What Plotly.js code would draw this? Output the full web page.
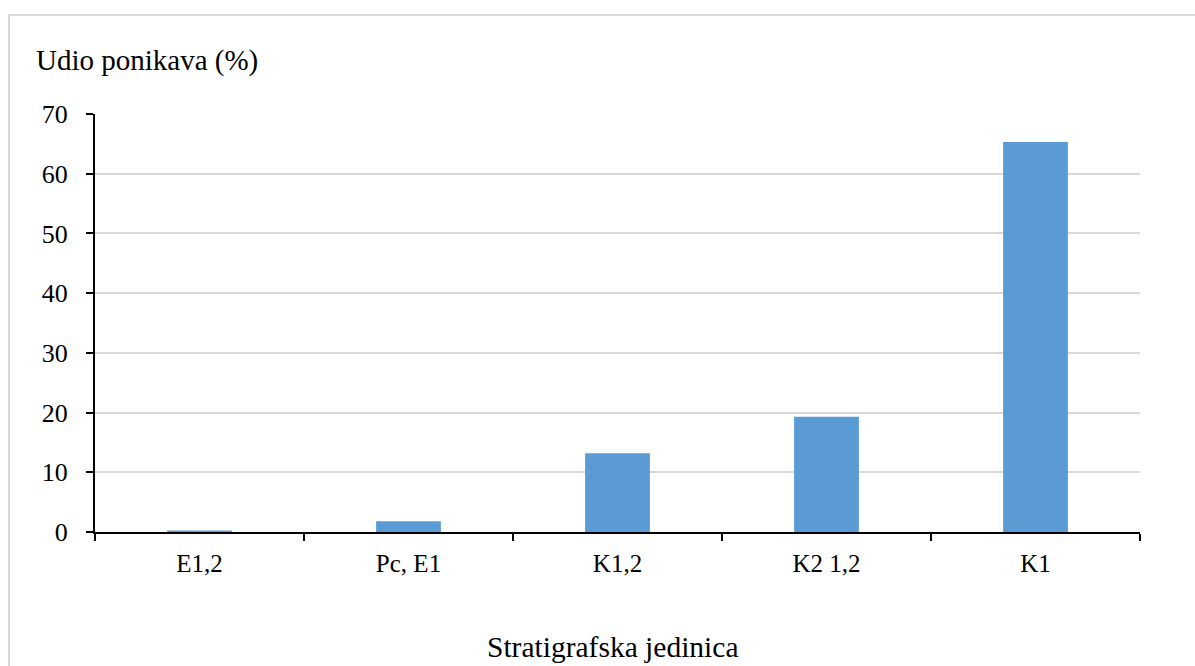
<!DOCTYPE html>
<html>
<head>
<meta charset="utf-8">
<script src="https://cdn.plot.ly/plotly-3.0.1.min.js"></script>
<style>
html,body{margin:0;padding:0;background:#fff;}
#wrap{position:relative;width:1195px;height:666px;overflow:hidden;}
#frame{position:absolute;left:8px;top:14px;width:1200px;height:700px;border:2px solid #d9d9d9;box-sizing:border-box;pointer-events:none;z-index:2;}
#chart{position:absolute;left:0;top:0;width:1195px;height:666px;}
</style>
</head>
<body>
<div id="wrap"><div id="chart"></div><div id="frame"></div></div>
<script>
const categories = ["E1,2", "Pc, E1", "K1,2", "K2 1,2", "K1"];
const values = [0.25, 1.8, 13.2, 19.3, 65.3];
const yTitle = "Udio ponikava (%)";
const xTitle = "Stratigrafska jedinica";

const font = "'Times New Roman', 'Liberation Serif', 'DejaVu Serif', serif";

Plotly.newPlot("chart", [{
  type: "bar",
  x: categories,
  y: values,
  marker: {color: "#5b9bd5"},
  hoverinfo: "x+y"
}], {
  width: 1195, height: 666,
  margin: {l: 95, r: 55, t: 114, b: 134},
  paper_bgcolor: "#fff", plot_bgcolor: "#fff",
  bargap: 0.69,
  showlegend: false,
  font: {family: font, color: "#000", size: 24},
  xaxis: {
    type: "category",
    tickson: "boundaries",
    ticks: "outside", ticklen: 7, tickwidth: 2, tickcolor: "#000",
    showline: true, linecolor: "#000", linewidth: 2,
    showgrid: false,
    tickfont: {family: font, size: 25, color: "#000"},
    ticklabelstandoff: 8
  },
  yaxis: {
    range: [0, 70], dtick: 10,
    ticks: "outside", ticklen: 7, tickwidth: 2, tickcolor: "#000",
    showline: true, linecolor: "#000", linewidth: 2,
    showgrid: true, gridcolor: "#d9d9d9", gridwidth: 2,
    zeroline: false,
    tickfont: {family: font, size: 26, color: "#000"},
    ticklabelstandoff: 13
  },
  annotations: [
    {text: yTitle, xref: "paper", yref: "paper", x: -0.058, y: 1.0, xanchor: "left", yanchor: "bottom", yshift: 35, showarrow: false, font: {family: font, size: 29, color: "#000"}},
    {text: xTitle, xref: "paper", yref: "paper", x: 0.495, y: 0, xanchor: "center", yanchor: "top", yshift: -97, showarrow: false, font: {family: font, size: 29.5, color: "#000"}}
  ]
}, {displayModeBar: false, staticPlot: true});
</script>
</body>
</html>
